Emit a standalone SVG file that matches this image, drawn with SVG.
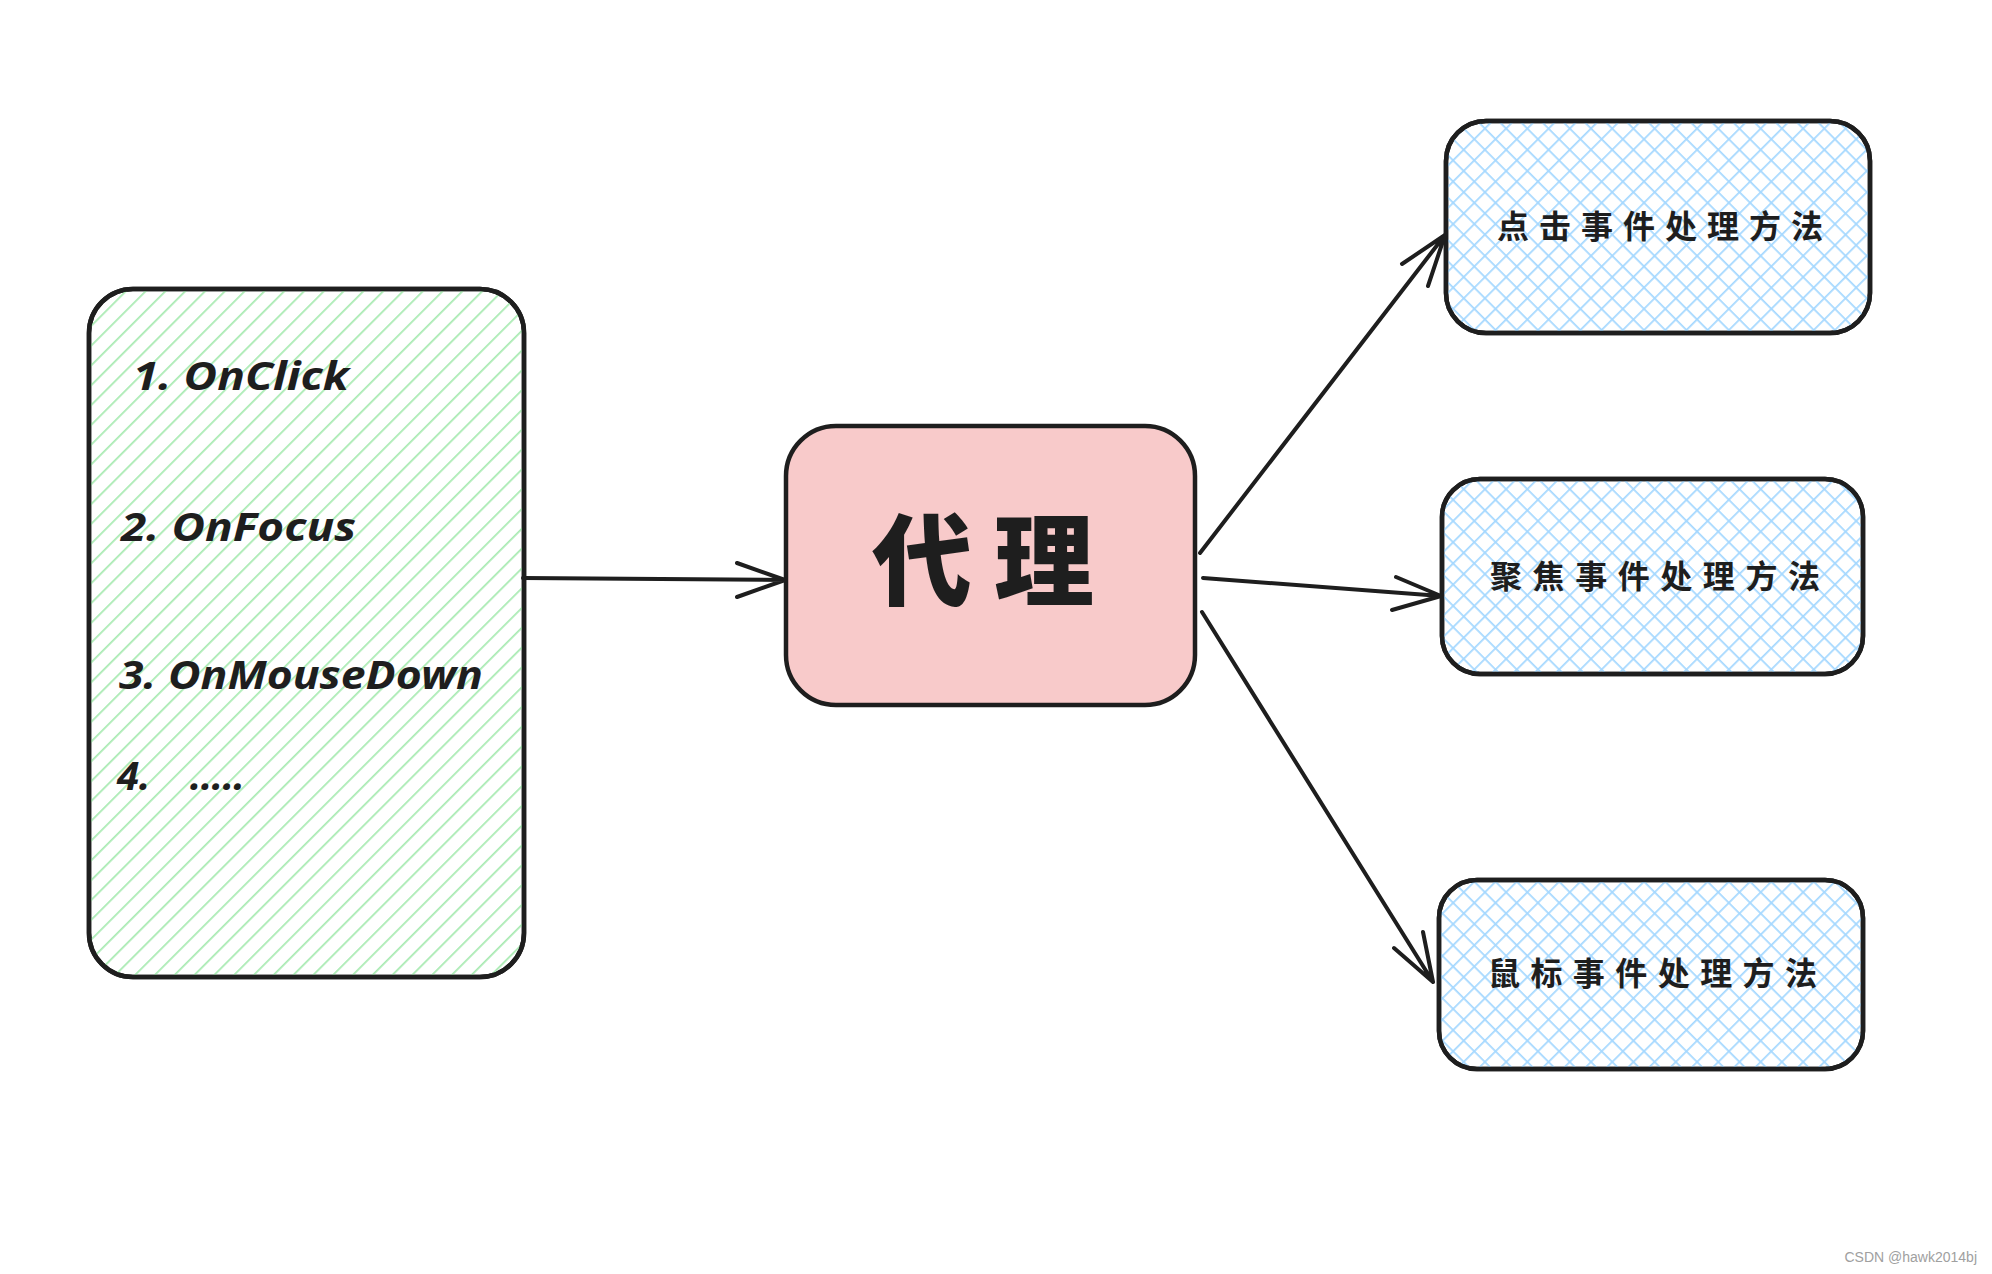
<svg xmlns="http://www.w3.org/2000/svg" width="1992" height="1274" viewBox="0 0 1992 1274">
<style>
.box{stroke:#1e1e1e;stroke-width:4.5;stroke-linejoin:round}
.en{font-family:"Noto Sans","Liberation Sans",sans-serif;font-weight:bold;font-style:italic;font-size:40px;fill:#1e1e1e}
.cn{font-family:"Noto Sans CJK SC","Noto Sans",sans-serif;font-weight:bold;font-size:32px;fill:#1e1e1e}
.big{font-family:"Noto Sans CJK SC","Noto Sans",sans-serif;font-weight:900;font-size:100px;fill:#1e1e1e}
.conn{stroke:#1e1e1e;stroke-width:4;fill:none;stroke-linecap:round;stroke-linejoin:round}
.wm{font-family:"Liberation Sans",Arial,sans-serif;font-size:14px;fill:#a0a0a0}
</style>
<defs>
<pattern id="green" patternUnits="userSpaceOnUse" width="14" height="14" patternTransform="rotate(45)">
<line x1="0" y1="0" x2="0" y2="14" stroke="#a8eab2" stroke-width="3.5"/>
</pattern>
<pattern id="blue" patternUnits="userSpaceOnUse" width="15" height="15" patternTransform="rotate(45)">
<line x1="0" y1="0" x2="0" y2="15" stroke="#a5d8ff" stroke-width="3.5"/>
<line x1="0" y1="0" x2="15" y2="0" stroke="#a5d8ff" stroke-width="3.5"/>
</pattern>
</defs>
<rect width="1992" height="1274" fill="#ffffff"/>

<g id="events">
<rect class="box" x="89" y="289" width="435" height="688" rx="44" fill="#ffffff"/>
<rect class="box" x="89" y="289" width="435" height="688" rx="44" fill="url(#green)"/>
<text class="en" x="133" y="390" textLength="216" lengthAdjust="spacingAndGlyphs">1. OnClick</text>
<text class="en" x="121" y="541" textLength="235" lengthAdjust="spacingAndGlyphs">2. OnFocus</text>
<text class="en" x="119" y="689" textLength="364" lengthAdjust="spacingAndGlyphs">3. OnMouseDown</text>
<text class="en" x="117" y="790">4.</text>
<text class="en" x="190" y="790" textLength="55" lengthAdjust="spacing">.....</text>
</g>

<g id="proxy">
<rect class="box" x="786" y="426" width="409" height="279" rx="50" fill="#f8caca"/>
<text class="big" x="983" y="598" text-anchor="middle" textLength="222" lengthAdjust="spacing">代理</text>
</g>

<g id="click">
<rect class="box" x="1446" y="121" width="424" height="212" rx="40" fill="#ffffff"/>
<rect class="box" x="1446" y="121" width="424" height="212" rx="40" fill="url(#blue)"/>
<text class="cn" x="1497" y="238" textLength="326" lengthAdjust="spacing">点击事件处理方法</text>
</g>

<g id="focus">
<rect class="box" x="1442" y="479" width="421" height="195" rx="38" fill="#ffffff"/>
<rect class="box" x="1442" y="479" width="421" height="195" rx="38" fill="url(#blue)"/>
<text class="cn" x="1490" y="588" textLength="330" lengthAdjust="spacing">聚焦事件处理方法</text>
</g>

<g id="mouse">
<rect class="box" x="1439" y="880" width="424" height="189" rx="38" fill="#ffffff"/>
<rect class="box" x="1439" y="880" width="424" height="189" rx="38" fill="url(#blue)"/>
<text class="cn" x="1488" y="985" textLength="329" lengthAdjust="spacing">鼠标事件处理方法</text>
</g>

<g id="connectors">
<path class="conn" d="M523 578 L785 580 M737 563 L785 580 L737 597"/>
<path class="conn" d="M1200 553 L1445 235 M1402 264 L1445 235 L1428 286"/>
<path class="conn" d="M1203 578 L1441 596 M1396 577 L1441 596 L1392 610"/>
<path class="conn" d="M1202 612 L1433 982 M1423 932 L1433 982 L1394 948"/>
</g>

<text class="wm" x="1977" y="1262" text-anchor="end">CSDN @hawk2014bj</text>
</svg>
